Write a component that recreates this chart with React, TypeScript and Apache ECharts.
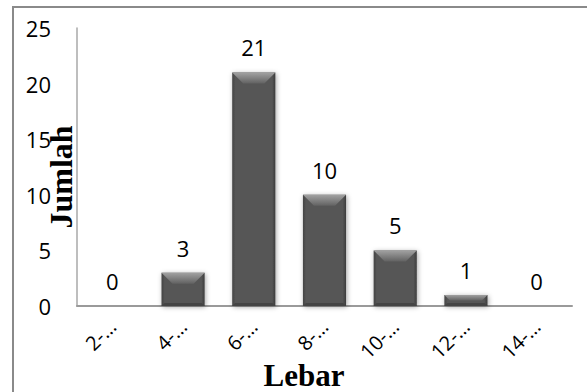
import React, { useEffect, useRef } from "react";
import * as echarts from "echarts";

const categories = ["2-…", "4-…", "6-…", "8-…", "10-…", "12-…", "14-…"];
const counts = [0, 3, 21, 10, 5, 1, 0];
const yTicks = { min: 0, max: 25, interval: 5 };

const labelFont = "'Open Sans', 'Noto Sans', sans-serif";
const titleFont = "'Liberation Serif', 'DejaVu Serif', serif";

// Bevelled dark-grey column with its value written above it
function renderBar(params: any, api: any) {
  const idx = api.value(0);
  const val = api.value(1);
  const top = api.coord([idx, val]);
  const base = api.coord([idx, 0]);
  const band = api.size([1, 0])[0];
  const w = band * 0.61;
  const x0 = top[0] - w / 2;
  const x1 = top[0] + w / 2;
  const y0 = top[1];
  const y1 = base[1];
  const h = y1 - y0;
  const children: any[] = [];
  if (h > 0.5) {
    const b = Math.min(11, h / 2);
    const s = Math.min(3, h / 2);
    children.push({
      type: "rect",
      shape: { x: x0, y: y0, width: w, height: h },
      style: {
        fill: new echarts.graphic.LinearGradient(0, 0, 1, 0, [
          { offset: 0, color: "#444" },
          { offset: 0.08, color: "#575757" },
          { offset: 0.92, color: "#575757" },
          { offset: 1, color: "#3c3c3c" },
        ]),
        shadowBlur: 5,
        shadowColor: "rgba(0,0,0,0.35)",
        shadowOffsetX: 1,
        shadowOffsetY: 1,
      },
    });
    // top bevel
    children.push({
      type: "polygon",
      shape: {
        points: [
          [x0, y0],
          [x1, y0],
          [x1 - b, y0 + b],
          [x0 + b, y0 + b],
        ],
      },
      style: {
        fill: new echarts.graphic.LinearGradient(0, 0, 0, 1, [
          { offset: 0, color: "#a2a2a2" },
          { offset: 1, color: "#626262" },
        ]),
      },
    });
    // bottom bevel
    children.push({
      type: "polygon",
      shape: {
        points: [
          [x0, y1],
          [x1, y1],
          [x1 - s, y1 - s],
          [x0 + s, y1 - s],
        ],
      },
      style: { fill: "#444" },
    });
  }
  children.push({
    type: "text",
    style: {
      text: String(val),
      x: top[0],
      y: y0 - 14,
      align: "center",
      verticalAlign: "bottom",
      font: `22px ${labelFont}`,
      fill: "#000",
    },
  });
  return { type: "group", children };
}

export default function App() {
  const ref = useRef<HTMLDivElement>(null);

  useEffect(() => {
    if (!ref.current) return;
    const chart = echarts.init(ref.current, null, { renderer: "svg" });
    chart.setOption({
      animation: false,
      backgroundColor: "#fff",
      grid: { left: 77, top: 28, width: 495, height: 278, containLabel: false },
      xAxis: {
        type: "category",
        data: categories,
        axisLine: { show: true, lineStyle: { color: "#9a9a9a", width: 2 } },
        axisTick: { show: false },
        axisLabel: {
          rotate: 45,
          margin: 17,
          fontFamily: labelFont,
          fontSize: 20,
          color: "#000",
          interval: 0,
        },
      },
      yAxis: {
        type: "value",
        min: yTicks.min,
        max: yTicks.max,
        interval: yTicks.interval,
        axisLine: { show: true, lineStyle: { color: "#a8a8a8", width: 1.5 } },
        axisTick: { show: false },
        splitLine: { show: false },
        axisLabel: {
          margin: 26,
          fontFamily: labelFont,
          fontSize: 22,
          color: "#000",
        },
      },
      series: [
        {
          type: "custom",
          renderItem: renderBar,
          data: counts.map((v, i) => [i, v]),
          clip: false,
        },
      ],
      graphic: [
        {
          type: "rect",
          z: -1,
          shape: { x: 13, y: 7, width: 620, height: 420 },
          style: { fill: "none", stroke: "#8a8a8a", lineWidth: 2 },
          silent: true,
        },
        {
          type: "text",
          x: 61,
          y: 177,
          rotation: Math.PI / 2,
          style: {
            text: "Jumlah",
            font: `bold 32px ${titleFont}`,
            fill: "#000",
            align: "center",
            verticalAlign: "middle",
          },
        },
        {
          type: "text",
          x: 304,
          y: 375,
          style: {
            text: "Lebar",
            font: `bold 31px ${titleFont}`,
            fill: "#000",
            align: "center",
            verticalAlign: "middle",
          },
        },
      ],
    });
    return () => chart.dispose();
  }, []);

  return (
    <div
      ref={ref}
      style={{ position: "fixed", left: 0, top: 0, width: 587, height: 392 }}
    />
  );
}
